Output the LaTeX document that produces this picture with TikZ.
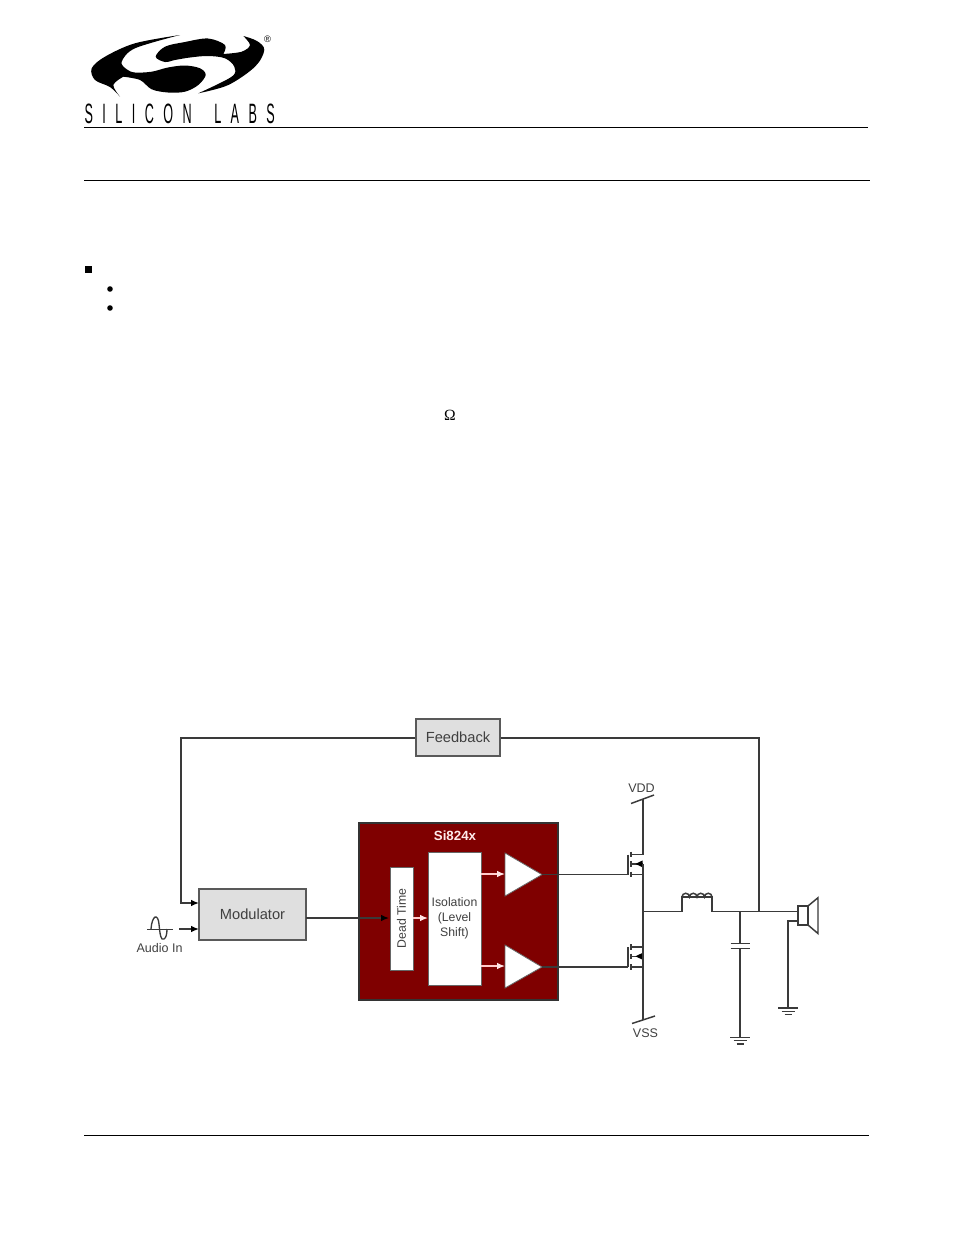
\documentclass[tikz,border=0pt]{standalone}
\usepackage{fontspec}
\setmainfont{Liberation Sans}
\newfontfamily\logofont[LetterSpace=75]{Liberation Sans}
\newfontfamily\serifont{Liberation Serif}
\usetikzlibrary{arrows.meta}
\definecolor{wire}{HTML}{3A3A3A}
\definecolor{boxgray}{HTML}{DFDFDF}
\definecolor{chipred}{HTML}{7F0000}
\definecolor{labelgray}{HTML}{404040}
\tikzset{
  px/.style={x=0.75pt,y=-0.75pt},
  rule/.style={draw=black,line width=0.7pt},
  wireline/.style={draw=wire,line width=1.1pt},
  arrowline/.style={wireline,-{Latex[length=6pt,width=5pt,black]}},
  whitearrow/.style={draw=white!80!red,line width=1.1pt,-{Latex[length=6pt,width=5pt,white!90!red]}},
  graybox/.style={draw=black!65,line width=0.9pt,fill=boxgray,inner sep=0pt,text=labelgray,font=\fontsize{11}{13}\selectfont},
  whitebox/.style={draw=black!60,line width=0.6pt,fill=white,inner sep=0pt,text=labelgray,font=\fontsize{9.2}{11.2}\selectfont,align=center},
  lab/.style={inner sep=0pt,text=labelgray,font=\fontsize{9.4}{11}\selectfont},
  amp/.style={draw=black!60,line width=0.6pt,fill=white},
  gndline/.style={draw=wire,line width=1pt},
  channel/.style={draw=wire,line width=1.3pt}
}
\newcommand{\gnd}[2]{%
  \draw[gndline] (#1-10,#2) -- (#1+10,#2);
  \draw[gndline] (#1-6.5,#2+3.3) -- (#1+6.5,#2+3.3);
  \draw[gndline] (#1-3.5,#2+6.6) -- (#1+3.5,#2+6.6);}
\newcommand{\mosfet}[2]{%
  % #1 = wire x, #2 = drain y
  \draw[wireline] (#1-12,#2) -- (#1,#2);
  \draw[wireline] (#1-12,#2+9.3) -- (#1,#2+9.3);
  \draw[wireline] (#1-12,#2+20) -- (#1,#2+20);
  \draw[channel] (#1-12.3,#2-3) -- (#1-12.3,#2+2.5);
  \draw[channel] (#1-12.3,#2+6.5) -- (#1-12.3,#2+12);
  \draw[channel] (#1-12.3,#2+17) -- (#1-12.3,#2+22.5);
  \draw[wireline] (#1-15,#2) -- (#1-15,#2+20);
  \fill[black] (#1-7.5,#2+9.3) -- (#1-0.3,#2+5.8) -- (#1-0.3,#2+12.8) -- cycle;}
\begin{document}
\begin{tikzpicture}[px]
\useasboundingbox (0,0) rectangle (954,1235);
\fill[white] (0,0) rectangle (954,1235);
% logo
\fill[black] plot[smooth,tension=0.55] coordinates {(180,35) (135,43.3) (105,56.7) (91.7,68.3) (95,80) (110,87) (120,96.7)}
  -- plot[smooth,tension=0.55] coordinates {(120,96.7) (113.3,85) (123.3,76.7)}
  -- plot[smooth,tension=0.55] coordinates {(123.3,76.7) (140,80) (151.7,89.3) (168,92.5) (185,91.7) (198.3,85) (205.7,75) (200,68.3) (185,65.5) (168,67.5) (151.7,71.7) (135,72.5) (126.7,69.3) (121.7,61.7) (135,48.3) (180,35)} -- cycle;
\fill[black] plot[smooth,tension=0.55] coordinates {(243.3,36) (257,41) (264.3,50) (255,66.7) (228.3,85) (198.3,93.3)}
  -- plot[smooth,tension=0.55] coordinates {(198.3,93.3) (231.7,76.7) (234.3,66.7) (225,58.3) (208,56) (190,57.5) (175,60) (165,62) (155.7,56.7) (165,46.7) (185,42) (208,38.5) (225,45) (223.3,54)}
  -- plot[smooth,tension=0.55] coordinates {(223.3,54) (241.7,51.7) (250,45) (243.3,36)} -- cycle;
\node[inner sep=0pt,font=\fontsize{7}{8}\selectfont] (regmark) at (267.5,39) {®};
\node[inner sep=0pt,anchor=base west,transform shape,xscale=0.45,font=\logofont\fontsize{21}{24}\selectfont] (logotext) at (84.5,123) {SILICON\hspace{16pt} LABS};
% rules
\coordinate (r1a) at (84,127); \coordinate (r1b) at (868,127);
\coordinate (r2a) at (84,180); \coordinate (r2b) at (870,180);
\coordinate (r3a) at (84,1135); \coordinate (r3b) at (869,1135);
\draw[rule] (r1a) -- (r1b);
\draw[rule] (r2a) -- (r2b);
\draw[rule] (r3a) -- (r3b);
% bullets
\fill[black] (85,265.5) rectangle (92.2,272.7);
\fill[black] (110,289) circle (2.8);
\fill[black] (110,308) circle (2.8);
\node[inner sep=0pt,font=\serifont\fontsize{11.7}{13}\selectfont] (omega) at (450,415) {Ω};
% blocks
\node[graybox,minimum width=63pt,minimum height=27.75pt] (feedback) at (458,737.5) {Feedback};
\node[graybox,minimum width=80.25pt,minimum height=38.25pt] (modulator) at (252.5,914.5) {Modulator};
\node[draw=black!80,line width=1pt,fill=chipred,inner sep=0pt,minimum width=149.25pt,minimum height=132.75pt] (chip) at (458.5,911.5) {};
\node[inner sep=0pt,text=white!92!red,font=\bfseries\fontsize{10}{12}\selectfont] (chiplabel) at (455,836) {Si824x};
\node[whitebox,minimum width=17.25pt,minimum height=77.25pt] (dead) at (401.5,918.5) {};
\node[inner sep=0pt,rotate=90,text=labelgray,font=\fontsize{9.2}{11}\selectfont] (deadtext) at (401.5,918.5) {Dead Time};
\node[whitebox,minimum width=39.75pt,minimum height=99.75pt] (iso) at (454.5,918.5) {Isolation\\(Level\\Shift)};
\coordinate (t1a) at (505,853); \coordinate (t1b) at (505,896); \coordinate (t1c) at (542,874.6);
\coordinate (t2a) at (505,945); \coordinate (t2b) at (505,988); \coordinate (t2c) at (542,967);
\draw[amp] (t1a) -- (t1c) -- (t1b) -- cycle;
\draw[amp] (t2a) -- (t2c) -- (t2b) -- cycle;
% internal arrows
\coordinate (i1) at (428,918); \coordinate (d1) at (413,918);
\coordinate (i2) at (481,874); \coordinate (a1) at (505,874);
\coordinate (i3) at (481,966); \coordinate (a2) at (505,966);
\draw[whitearrow] (d1) -- (i1);
\draw[whitearrow] (i2) -- (a1);
\draw[whitearrow] (i3) -- (a2);
% signal wires
\coordinate (mout) at (306,918); \coordinate (din) at (389,918);
\draw[arrowline] (mout) -- (din);
\coordinate (fbl) at (181,738); \coordinate (fbld) at (181,903); \coordinate (min1) at (199,903);
\draw[arrowline] (feedback.west |- fbl) -- (fbl) -- (fbld) -- (min1);
\coordinate (audst) at (179,929); \coordinate (min2) at (199,929);
\draw[arrowline] (audst) -- (min2);
% sine
\coordinate (sl) at (147,929); \coordinate (sr) at (173,929);
\draw[draw=wire,line width=0.5pt] (sl) -- (sr);
\draw[draw=wire,line width=1pt] (151,929) .. controls (152,915) and (158,913) .. (159,924)
  .. controls (160,935) and (161,941) .. (164,939) .. controls (166,938) and (167,934) .. (167,929);
\node[lab] (audio) at (159.5,948) {Audio In};
% output stage
\def\wx{643}
\mosfet{\wx}{854.6}
\mosfet{\wx}{947}
\coordinate (gt1) at (628,874.6); \coordinate (gt2) at (628,967);
\draw[wireline] (t1c) -- (gt1);
\draw[wireline] (t2c) -- (gt2);
\coordinate (vddtop) at (643,799); \coordinate (d1top) at (643,854.6);
\coordinate (s1) at (643,864); \coordinate (s2) at (643,1020);
\draw[wireline] (vddtop) -- (d1top);
\draw[wireline] (s1) -- (s2);
\coordinate (vdda) at (631,803.5); \coordinate (vddb) at (654,795);
\coordinate (vssa) at (632,1023.5); \coordinate (vssb) at (655,1016);
\draw[wireline] (vdda) -- (vddb);
\draw[wireline] (vssa) -- (vssb);
\node[lab] (vdd) at (641.5,788.5) {VDD};
\node[lab] (vss) at (645.5,1033) {VSS};
% inductor and output
\coordinate (mid) at (643,911.3); \coordinate (ind1) at (682,911.3); \coordinate (ind2) at (712,911.3);
\coordinate (ind1t) at (682,897); \coordinate (ind2t) at (712,897);
\coordinate (capn) at (740,911.3); \coordinate (fbn) at (759,911.3); \coordinate (spk) at (798,911.3);
\draw[wireline] (mid) -- (ind1) -- (ind1t) -- (ind2t) -- (ind2) -- (capn) -- (fbn) -- (spk);
\draw[wireline] (ind1t) arc[start angle=180,end angle=360,radius=3.75]
  arc[start angle=180,end angle=360,radius=3.75]
  arc[start angle=180,end angle=360,radius=3.75]
  arc[start angle=180,end angle=360,radius=3.75];
\coordinate (fbr) at (759,738);
\draw[wireline] (feedback.east |- fbr) -- (fbr) -- (fbn);
% capacitor
\coordinate (capt) at (740,943.5); \coordinate (capb) at (740,948.5); \coordinate (capg) at (740,1037.5);
\draw[wireline] (capn) -- (capt);
\draw[wireline] (capb) -- (capg);
\draw[wireline] (730.5,943.5) -- (749.5,943.5);
\draw[wireline] (730.5,948.5) -- (749.5,948.5);
\gnd{740}{1037.5}
% speaker
\draw[wireline] (798,906) rectangle (808,925);
\draw[wireline] (808,906) -- (818,897.7) -- (818,933.5) -- (808,925);
\coordinate (spg) at (798,921); \coordinate (spc) at (788,921); \coordinate (spd) at (788,1008);
\draw[wireline] (spg) -- (spc) -- (spd);
\gnd{788}{1008}
\end{tikzpicture}
\end{document}
